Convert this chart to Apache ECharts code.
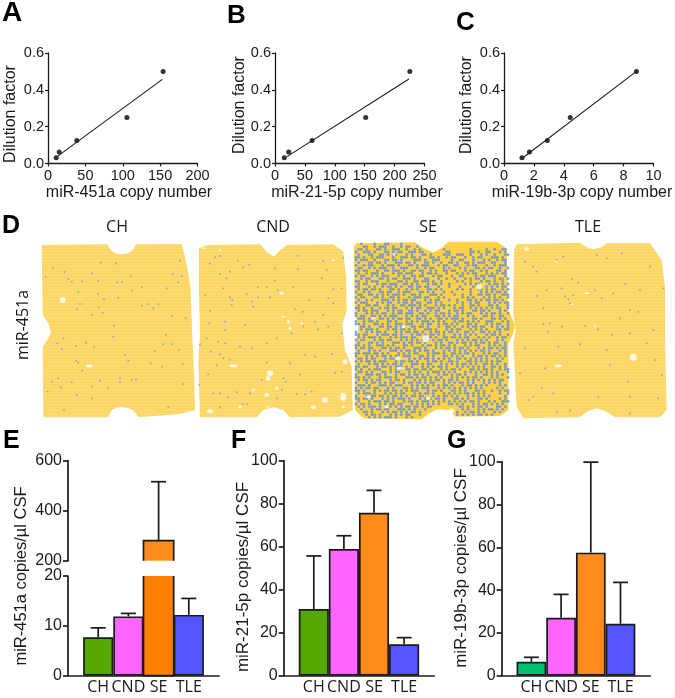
<!DOCTYPE html>
<html><head><meta charset="utf-8">
<style>html,body{margin:0;padding:0;background:#fff}#c{width:675px;height:698px}</style>
<script src="https://cdn.jsdelivr.net/npm/echarts@6/dist/echarts.min.js"></script>
</head><body><div id="c"></div>
<script>
// ---------- calibration curves (panels A-C) ----------
const dilution = [0.03125, 0.0625, 0.125, 0.25, 0.5];
const copiesA = [11, 15, 38.5, 105.6, 154];
const copiesB = [15.5, 23, 62, 151.7, 225.5];
const copiesC = [1.2, 1.7, 2.9, 4.43, 8.86];
const fitA = [[13, 0.04], [153, 0.457]];
const fitB = [[19.4, 0.036], [224, 0.459]];
const fitC = [[1.2, 0.027], [8.86, 0.5]];
// ---------- bar panels (E-G) ----------
const groups = ['CH', 'CND', 'SE', 'TLE'];
const meanE = [7.7, 11.9, 280, 12.2];
const upperE = [9.6, 12.5, 516, 15.5];
const meanF = [31, 58.9, 75.8, 14.6];
const upperF = [55.7, 65.1, 86.2, 17.7];
const meanG = [6.5, 27.1, 57.5, 24.3];
const upperG = [8.6, 38, 99.8, 43.6];
// ---------- array panels (D): slide coordinates ----------
const outlineCH = [[125,105],[322,103],[330,118],[340,126],[352,131],[365,132],[378,131],[390,126],[400,118],[408,103],[545,102],[555,140],[565,190],[572,240],[575,330],[580,450],[585,590],[585,600],[540,612],[415,622],[405,606],[392,597],[380,593],[365,592],[350,593],[338,598],[330,608],[325,622],[130,622],[128,410],[145,385],[153,365],[145,340],[128,315]];
const outlineCND = [[597,115],[620,105],[780,103],[800,125],[822,140],[835,125],[860,105],[1000,103],[1030,125],[1038,200],[1040,300],[1027,345],[1035,420],[1055,470],[1058,600],[1020,620],[870,622],[850,600],[820,592],[790,600],[770,622],[600,622],[595,450],[600,380],[597,250]];
const outlineSE = [[48,100],[225,97],[250,115],[280,127],[305,115],[325,95],[470,95],[500,115],[505,300],[525,345],[520,370],[505,400],[505,600],[480,618],[345,620],[330,600],[290,598],[265,612],[245,628],[70,625],[45,600],[45,400],[55,370],[55,345],[45,310],[42,110]];
const outlineTLE = [[530,103],[720,98],[740,112],[760,118],[785,112],[800,100],[930,100],[965,150],[975,230],[975,390],[980,600],[960,622],[825,622],[800,605],[770,595],[740,605],[720,622],[550,625],[530,590],[520,400],[527,360],[520,310],[522,120]];
const spotsCH = [[302,158],[348,160],[158,173],[193,186],[137,200],[205,207],[215,215],[247,214],[295,213],[277,190],[352,217],[366,216],[392,199],[425,232],[500,235],[518,192],[545,198],[535,217],[540,152],[235,245],[295,252],[355,263],[312,267],[397,242],[230,298],[240,282],[297,292],[425,287],[445,283],[460,295],[475,283],[277,315],[308,308],[517,318],[557,325],[190,385],[172,400],[185,417],[228,408],[258,398],[283,412],[342,347],[340,380],[375,435],[465,423],[490,403],[517,403],[537,420],[497,375],[228,452],[235,458],[385,452],[452,460],[487,470],[548,463],[247,482],[175,505],[157,515],[215,517],[300,512],[360,505],[395,510],[408,508],[360,517],[550,522],[143,545],[183,532],[325,535],[230,555],[275,530],[275,565],[505,592],[192,600]];
const spotsCND = [[660,138],[645,142],[713,152],[748,165],[730,172],[690,185],[660,192],[680,205],[630,160],[825,175],[893,137],[970,153],[1030,143],[893,177],[980,180],[965,205],[825,212],[773,232],[800,232],[833,240],[880,232],[1000,238],[1025,235],[615,255],[670,235],[690,262],[697,270],[695,285],[740,253],[757,275],[760,290],[775,262],[810,262],[985,265],[1000,280],[927,270],[630,303],[885,297],[908,305],[945,335],[970,315],[628,340],[675,335],[675,360],[620,385],[735,345],[655,395],[600,403],[632,425],[660,433],[675,400],[670,445],[650,465],[690,450],[720,410],[755,415],[800,400],[830,385],[875,370],[910,350],[955,358],[985,350],[1025,370],[995,432],[945,440],[800,458],[870,460],[915,435],[625,493],[785,510],[810,505],[850,505],[857,515],[900,493],[1005,488],[1025,485],[598,525],[640,550],[660,550],[710,547],[750,550],[845,540],[890,552],[915,553],[935,545],[660,592],[728,582],[742,582],[685,562],[830,565]];
const spotsTLE = [[670,140],[770,135],[845,130],[800,145],[650,150],[580,170],[590,185],[555,155],[930,170],[695,207],[715,218],[665,235],[620,240],[590,258],[675,260],[700,255],[685,268],[690,280],[610,295],[765,240],[820,250],[900,240],[855,222],[970,235],[840,325],[870,300],[895,305],[785,265],[630,340],[610,342],[625,365],[665,350],[735,348],[775,358],[815,375],[940,360],[655,410],[720,403],[800,420],[870,370],[920,400],[555,415],[615,475],[810,465],[865,515],[965,495],[605,535],[565,570],[580,560],[640,550],[775,560],[870,560],[955,565],[650,605],[690,602],[870,610],[540,490],[945,450]];
// gaps: x, y, width, height
const gapsCH = [[188,270,6,6],[268,468,7,3]];
const gapsCND = [[700,467,8,3],[810,490,6,6],[805,505,5,5],[800,555,5,4],[975,570,6,6],[1030,560,6,8],[940,592,5,4],[630,603,6,4],[1035,455,5,5],[760,540,3,3],[830,535,3,3],[845,250,4,3],[865,335,3,3],[870,355,3,3],[850,320,3,2],[905,340,3,2],[610,115,3,2],[1000,150,3,2],[720,590,3,3],[1030,590,3,3],[805,590,2,2],[660,120,2,2]];
const gapsSE = [[418,230,6,6],[257,386,7,7],[180,475,7,3],[335,603,5,5],[85,560,5,3],[175,445,5,4],[100,325,5,2],[190,350,4,3],[162,133,3,3],[140,590,4,3],[265,565,5,3]];
const gapsTLE = [[880,442,7,7],[655,467,7,3],[560,117,5,4],[740,250,5,2],[695,283,4,1],[650,155,2,2],[765,348,2,2]];
// SE array: one character per spot ('#' = positive), read row by row
const rowsSE = [
"..#....#...##....#........................................",
"...##..#.###..#..#.##..#..................................",
".##.#...##.#..###..#..#.#........#.........#.....#..#..##.",
"#..###.#...##.#.##..###.##........##.......##.#..##...#.#.",
".#...##..##.#.##...#.#...##.#....###..###..#...#.#..#...##",
"##.#..#.###...#..###.##.#...##.#..#.##...#..#.##...###.#..",
"#.###..#...##.##.#....###.#..###....#..##...#...#.#..#.##.",
".#...##.##.#...###.##.#...##.#..#..##.#..##.#.###..##...#.",
"#..#.##...#.###.#...##.#.###...#.##..##...#.##...#..#.###.",
".##..#.#.###..#..###...#..#.##...#.#...#.#...##.#.##..#..#",
"##.##...#..##.###.#..##.##..#.#..##.##...#.##..#.#...##.#.",
".#..#.###.#...#.##.###...#.##.#...#...#.#.#.##...#.#.#.##.",
"#.##..#.#.###...#.#..##.##...#.##...#..##....#.##.###...#.",
"..#.##...##.#.##..###.#...##...#..#..#...#.#.##.#...#.##.#",
"##..#.###...#...##.#..##.###.#..#.....#.#..#...#.##.#..#..",
".#.##...#.##.###..##.#.#...#.##.#..#.....#.#.##...#.##.#.#",
"##...#.#..#.##.#.#..##.##.##...#...#...#....#.#..#.#.#.##.",
".#.##.##.#...##.#..#.#.#...##.#.#.....#.#..#..##.#.##..#.#",
"#..#.#...##.##..#.###...##.#.#...#..#......#...#.#.#.##.#.",
".##..##.#.#.#.###.#..##.#...###.#....#..#..#..##.##.#..###",
"#.##...##.#..##.#...#.###.##...#.#......#.#.#...#.#.#.#..#",
".#..#.#...###.#.#.##.##...#.#.##...#..#...##.#.#.##.##.#..",
"#.###...#.#.##..#.##.#.##..##.#.#.....#.#..#.##...#.#.#.##",
".#..##.##...#.#..##.###.#.#...#.##.#.#..#..##.#...##.#...#",
"##.#..#..#.##.##...#.#.##..###.#.#...#.##..#.#.#.#.#.##..#",
".#.##.###...#.#.##..##.#..#.#.##...#.##.#...##.##.#...#.#.",
"#...#.#.#.##..#.##.###..##.#..#.##.#..#.#.##...#.#.##.#..#",
"#.##..##.#.#.###...#.#.#.##...##.#.#.##...#.#...##.#..##..",
".###.#...##.#.#.##.##..##.#.#..##.#.###.#...##.#...##.#.#.",
"#..#.##.#...##.#...#.#.#.###.#.#.#...#.##.#.#.#..###...#.#",
"##.#...##.#.#..###.###...#.##..#.##.#.#...##.#...#.#.##..#",
"..##.#...##.##.#.#...##.##.#...#..##.#..#.#.##.##..#.#.#.#",
"..#.###.#...#.##.##.#.#...###.#...#.#.##...#.#.#.#...##.##",
"#...#.#.##.#...#.#.##.##.#..#.##.#.##.#..##.#..##.#.#.#...",
"##.##...#.###.##.#...#.##.#.##.#.#...#.#.#.#.#...#.##.#..#",
".#.#.###.#...#.#.###.##...#.#.#..##.##.#.##...#.#.#..#.##.",
"#.##...#.##.##...#.#.#.#.###.#.##.#...#.#.#.##.#.#...#.#..",
".#...##.#.#...###.#.##.##.#...#.#..##.#.##.#.#.##.#.##..#.",
"##.#.#..###.#.#...##.#...#.##.#.##.#.#...#.#.##...#.#.#.#.",
"#.##.##...##.#.##.#...###.#...#.#.##.#.##.#...#.#.##.#.##.",
".#...#.#.#...###.#.##.#.#.##.#...#.#.#.#.#.#.#.##.#...#.#.",
"##.###.##.#.#...#.#.#.##...#.###.#..##.#.##.#...#.#.##..#.",
"#...#.#.#.##.#.##.###...##.#.#...##.#.#.#...#.##.#.##.#.#.",
".##.#.##...#.##.#...#.#.#.##.#.#.#.#..##.#.#.#.#.#...#.#..",
"#.#.##.#.###...#.##.##.#...#.##.#..##.#...##.#.#.#.#.##...",
".#...#.##.#.#.##.#...###.#.##...#.#.#.#.##.#.#..##.#.#..#.",
"##.##...#.##.#.###.#.#...#.#.#.##.#...#.#.#.#.#.#..##.#.#.",
"#.#..#.###...#.#.#.##.##.##.#...#.#.##.#...##.#.##.#..#.##",
".##.#.#...##.#.##...#.#.#..#.###.#.#.#...#.#.#.#.#.#.#...#",
"#...###.##.#...#.##.#.##.#.#...#.##.#.##.#...#..##.#.#.#..",
"##.#.#...#.###.#...###.#.##.#.#.#...#.#.#.#.##.#...#.#...#",
".#.##.#.##...#.##.#...#.#.#.#.##.#.##.#...#.#.#.#.#.#.##..",
"#...#.##.#.#.##...#.##.##.#.##...#.#.#.##.#.#...#.#.#.#...",
".###.#...###.#.###...#.#.#.#.#.#.##.#...#.##.#.#.#....#.#.",
"#.#.##.##...#.#...##.#.#.###...#.#.#.#.#.#.#.#.#.....#.#..",
"##.#...#.#.##.##.#.#.###...#.##.#...##.#.#...##.#..#..#.##",
".#.###.#...#.#.#.##...#.#.##.#...#.#.#.#.##.#.#.#.....#..#",
"#...#.##.##.#.##.#.#.##.##...#.#.##.#.#...#.#.#.#.#.....#.",
"##.##.#...#.#.#.###.#...#.#.#.##.#...##.#.#...##.#....#.#.",
".#...#.###.##.#...#.##.#.###.#.#.#.#.#.#.#.##.#...#.#..###",
"#.##.#...#.#.##.##...#.#.#.#.#.#...##.#.#...#.#.##.#.#.#..",
".#.#.###.#...#.#.#.##.##.#.##..........##.#.#.##.#...##.#.",
"..#...#.##.##...###.#.#...#.............#.#...#.#.##.#.#..",
"...##.#...#.#.##.#.#.##.#.............#..#.##.#.#...#.#...",
"....#.##.#...#.#.#.##...#.............#.#.#.#.##.#.#......",
".....#.#.#.###.#...#.#...................................."
];
// ---------- look ----------
const DARK = '#1a1a1a';
const ARIAL = '"Liberation Sans", Arial, sans-serif';
const SOFT = '"Open Sans", "Noto Sans", sans-serif';
const GREEN = '#55a800', TEAL = '#00c070', PINK = '#ff66ff', ORANGE = '#ff8c1a', ORANGE2 = '#ff8000', BLUE = '#5555ff';
const SPOT = '#6f98d6', SPOT_SE = '#5a8edd';

function stripes(a, b) {
  const cv = document.createElement('canvas'); cv.width = 4; cv.height = 3;
  const g = cv.getContext('2d');
  g.fillStyle = a; g.fillRect(0, 0, 4, 3);
  g.fillStyle = b; g.fillRect(0, 2, 4, 1);
  return { image: cv, repeat: 'repeat' };
}
const fillNormal = stripes('#fcd766', '#fddc78');
const fillSE = stripes('#ffcf3f', '#ffd350');

const grid = [], xAxis = [], yAxis = [], series = [];
function addGrid(g, x, y) {
  grid.push(Object.assign({ containLabel: false }, g));
  const i = grid.length - 1;
  xAxis.push(Object.assign({ gridIndex: i }, x));
  yAxis.push(Object.assign({ gridIndex: i }, y));
  return i;
}
const line = { show: true, onZero: false, lineStyle: { color: DARK, width: 1.3 } };
const thick = { show: true, onZero: false, lineStyle: { color: DARK, width: 1.7 } };

// --- A, B, C
function curve(left, xMax, xInt, xs, fit) {
  const i = addGrid({ left, top: 53, width: 149.5, height: 110.5 },
    { type: 'value', min: 0, max: xMax, interval: xInt, splitLine: { show: false }, axisLine: line,
      axisTick: { show: true, length: 3, lineStyle: { color: DARK, width: 1.2 } },
      axisLabel: { fontFamily: ARIAL, fontSize: 14.5, color: DARK, margin: 5 } },
    { type: 'value', min: 0, max: 0.6, interval: 0.2, splitLine: { show: false }, axisLine: line,
      axisTick: { show: true, length: 3, lineStyle: { color: DARK, width: 1.2 } },
      axisLabel: { fontFamily: ARIAL, fontSize: 14.5, color: DARK, margin: 4, formatter: v => v.toFixed(1) } });
  series.push({ type: 'line', xAxisIndex: i, yAxisIndex: i, data: fit, showSymbol: false, silent: true,
    lineStyle: { color: DARK, width: 1.1 }, clip: false });
  series.push({ type: 'scatter', xAxisIndex: i, yAxisIndex: i, data: xs.map((x, k) => [x, dilution[k]]),
    symbolSize: 5, itemStyle: { color: '#000' }, clip: false });
}
curve(48, 200, 50, copiesA, fitA);
curve(275, 250, 50, copiesB, fitB);
curve(504, 10, 2, copiesC, fitC);

// --- D
function arrayPanel(left, originX, outline, fill, spots, gaps, spotSize, spotColor) {
  const w = 160, top = 240, h = 190;
  const i = addGrid({ left, top, width: w, height: h },
    { type: 'value', show: false, min: (left - originX) * 3, max: (left + w - originX) * 3 },
    { type: 'value', show: false, inverse: true, min: (top - 210) * 3, max: (top + h - 210) * 3 });
  series.push({ type: 'custom', xAxisIndex: i, yAxisIndex: i, silent: true, clip: false, z: 1,
    data: [outline[0]], encode: { x: 0, y: 1 },
    renderItem: (p, api) => ({ type: 'polygon', shape: { points: outline.map(o => api.coord(o)) }, style: { fill } }) });
  series.push({ type: 'scatter', xAxisIndex: i, yAxisIndex: i, silent: true, z: 2, data: spots,
    symbol: spotSize > 2 ? 'circle' : 'rect', symbolSize: spotSize, itemStyle: { color: spotColor } });
  series.push({ type: 'scatter', xAxisIndex: i, yAxisIndex: i, silent: true, z: 3, data: gaps,
    symbol: 'circle', symbolSize: d => [d[2], d[3]], itemStyle: { color: '#fff' } });
}
const spotsSE = [];
rowsSE.forEach((row, r) => { for (let c = 0; c < row.length; c++) if (row[c] === '#') spotsSE.push([48 + c * 8, 102 + r * 8]); });
arrayPanel(40, 0, outlineCH, fillNormal, spotsCH, gapsCH, 1.6, SPOT);
arrayPanel(196, 0, outlineCND, fillNormal, spotsCND, gapsCND, 1.6, SPOT);
arrayPanel(352, 340, outlineSE, fillSE, spotsSE, gapsSE, 2.9, SPOT_SE);
arrayPanel(510, 340, outlineTLE, fillNormal, spotsTLE, gapsTLE, 1.6, SPOT);

// --- E, F, G
function barAxisX(show) {
  return { type: 'value', min: 0, max: 5, interval: 1, show, splitLine: { show: false }, axisLine: thick, axisTick: { show: false },
    axisLabel: { show, fontFamily: SOFT, fontSize: 16, color: DARK, margin: 4, hideOverlap: false,
      customValues: [1, 2, 3, 4], formatter: v => groups[v - 1] || '' } };
}
function barAxisY(min, max, interval) {
  return { type: 'value', min, max, interval, splitLine: { show: false }, axisLine: thick,
    axisTick: { show: true, length: 5, lineStyle: { color: DARK, width: 1.7 } },
    axisLabel: { fontFamily: ARIAL, fontSize: 16, color: DARK, margin: 6 } };
}
function bars(i, means, colors, keep, step, open) {
  series.push({ type: 'bar', xAxisIndex: i, yAxisIndex: i, barWidth: step, z: 3, clip: true,
    data: means.map((v, k) => keep(k) ? { value: [k + 1, v],
      itemStyle: { color: colors[k], borderWidth: open(k) ? 0 : 1.7 } } : null).filter(Boolean),
    itemStyle: { borderColor: DARK, borderWidth: 1.7 } });
}
// outline of a bar that crosses the axis break: 'top' keeps the cap, 'bottom' keeps the foot
function brokenBar(i, xValue, lowValue, highValue, half, keepEdge) {
  series.push({ type: 'custom', xAxisIndex: i, yAxisIndex: i, silent: true, z: 4, clip: false,
    data: [[xValue, lowValue, highValue]], encode: { x: 0, y: [1, 2] },
    renderItem: (p, api) => {
      const lo = api.coord([api.value(0), api.value(1)]), hi = api.coord([api.value(0), api.value(2)]);
      const l = lo[0] - half, r = lo[0] + half;
      const pts = keepEdge === 'top' ? [[l, lo[1]], [l, hi[1]], [r, hi[1]], [r, lo[1]]]
                                     : [[l, hi[1]], [l, lo[1]], [r, lo[1]], [r, hi[1]]];
      return { type: 'polyline', shape: { points: pts }, style: { stroke: DARK, lineWidth: 1.7, fill: 'none' } };
    } });
}
function whiskers(i, means, uppers, keep) {
  series.push({ type: 'custom', xAxisIndex: i, yAxisIndex: i, silent: true, z: 2, clip: false,
    data: means.map((v, k) => [k + 1, v, uppers[k]]).filter((d, k) => keep(k)), encode: { x: 0, y: [1, 2] },
    renderItem: (p, api) => {
      const a = api.coord([api.value(0), api.value(1)]), b = api.coord([api.value(0), api.value(2)]);
      const s = { stroke: DARK, lineWidth: 1.7, fill: 'none' };
      return { type: 'group', children: [
        { type: 'line', shape: { x1: a[0], y1: a[1], x2: b[0], y2: b[1] }, style: s },
        { type: 'line', shape: { x1: b[0] - 7.5, y1: b[1], x2: b[0] + 7.5, y2: b[1] }, style: s } ] };
    } });
}
const colorsE = [GREEN, PINK, ORANGE2, BLUE], colorsE2 = [GREEN, PINK, ORANGE, BLUE];
const colorsF = [GREEN, PINK, ORANGE, BLUE], colorsG = [TEAL, PINK, ORANGE, BLUE];
const seOnly = k => groups[k] === 'SE', all = () => true, none = () => false;
const notSE = k => groups[k] !== 'SE';
const seIndex = groups.indexOf('SE');
const iEu = addGrid({ left: 68, top: 460.7, width: 151, height: 100 }, barAxisX(false), barAxisY(200, 600, 200));
bars(iEu, meanE, colorsE2, seOnly, 30.2, seOnly);
brokenBar(iEu, seIndex + 1, 200, meanE[seIndex], 15.1, 'top');
whiskers(iEu, meanE, upperE, seOnly);
const iEl = addGrid({ left: 68, top: 576, width: 151, height: 99.7 }, barAxisX(true), barAxisY(0, 20, 10));
bars(iEl, meanE, colorsE, all, 30.2, seOnly);
brokenBar(iEl, seIndex + 1, 0, 20, 15.1, 'bottom');
whiskers(iEl, meanE, upperE, notSE);
const iF = addGrid({ left: 283.7, top: 460.7, width: 150.5, height: 215 }, barAxisX(true), barAxisY(0, 100, 20));
bars(iF, meanF, colorsF, all, 30.1, none);
whiskers(iF, meanF, upperF, all);
const iG = addGrid({ left: 501.7, top: 461.7, width: 148.5, height: 214 }, barAxisX(true), barAxisY(0, 100, 20));
bars(iG, meanG, colorsG, all, 29.7, none);
whiskers(iG, meanG, upperG, all);

// --- texts
function txt(text, x, y, fontSize, font) {
  return { type: 'text', x, y, z: 50, silent: true,
    style: { text, fontSize, fontFamily: font, fill: DARK, align: 'center', verticalAlign: 'middle' } };
}
function vtxt(text, x, y, fontSize, font) {
  return { type: 'text', x, y, rotation: Math.PI / 2, z: 50, silent: true,
    style: { text, fontSize, fontFamily: font, fill: DARK, align: 'center', verticalAlign: 'middle' } };
}
const letter = (t, x, y, s) => ({ type: 'text', x, y, z: 50, silent: true,
  style: { text: t, fontSize: s, fontWeight: 'bold', fontFamily: ARIAL, fill: '#000', align: 'left', verticalAlign: 'middle' } });
const graphic = [
  letter('A', 2, 13, 28), letter('B', 227, 16, 26), letter('C', 456, 23, 26), letter('D', 2, 226, 25),
  letter('E', 3, 441, 25), letter('F', 231, 441, 25), letter('G', 447, 441, 25),
  txt('miR-451a copy number', 129, 193, 16, ARIAL), txt('miR-21-5p copy number', 357, 193, 16, ARIAL), txt('miR-19b-3p copy number', 582, 193, 16, ARIAL),
  vtxt('Dilution factor', 11, 114, 16, ARIAL), vtxt('Dilution factor', 240, 105, 16, ARIAL), vtxt('Dilution factor', 467, 105, 16, ARIAL),
  txt('CH', 117, 227, 16, SOFT), txt('CND', 273, 227, 16, SOFT), txt('SE', 428, 227, 16, SOFT), txt('TLE', 588, 227, 16, SOFT),
  vtxt('miR-451a', 23, 325, 16, SOFT),
  vtxt('miR-451a copies/µl CSF', 21, 576, 16.5, ARIAL), vtxt('miR-21-5p copies/µl CSF', 243, 577, 17, ARIAL), vtxt('miR-19b-3p copies/µl CSF', 461, 568, 17, ARIAL)
];

const chart = echarts.init(document.getElementById('c'), null, { renderer: 'canvas' });
chart.setOption({ animation: false, backgroundColor: '#fff', tooltip: { show: false }, grid, xAxis, yAxis, series, graphic });
</script></body></html>
